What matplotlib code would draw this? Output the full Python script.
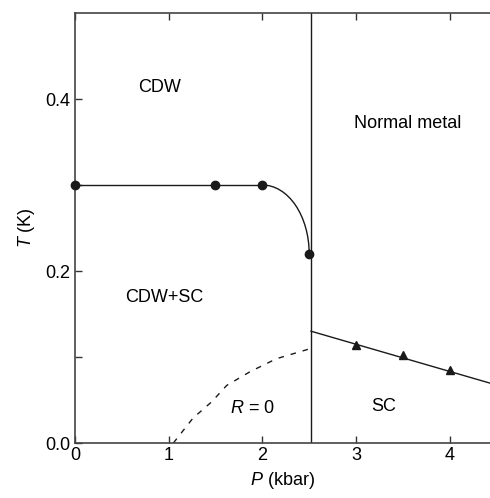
import matplotlib
matplotlib.use('Agg')
import matplotlib.pyplot as plt
from matplotlib.patches import Arc

plt.rcParams['font.family'] = ['Liberation Sans', 'DejaVu Sans']
plt.rcParams['mathtext.fontset'] = 'custom'
plt.rcParams['mathtext.it'] = 'Liberation Sans:italic'
plt.rcParams['mathtext.rm'] = 'Liberation Sans'

# CDW transition (circles)
cdw_p = [0.0, 1.5, 2.0, 2.5]
cdw_t = [0.30, 0.30, 0.30, 0.22]

# SC transition (triangles) and its linear fit
sc_p = [3.0, 3.5, 4.0]
sc_t = [0.114, 0.102, 0.085]
sc_fit_p = [2.52, 4.45]
sc_fit_t = [0.130, 0.069]

# zero-resistance boundary (dashed)
r0_p = [1.05, 1.26, 1.46, 1.62, 1.87, 2.15, 2.52]
r0_t = [0.0, 0.029, 0.048, 0.067, 0.083, 0.098, 0.110]

boundary_p = 2.52

fig = plt.figure(figsize=(4.9, 4.98), dpi=100)
ax = fig.add_axes([0.153, 0.1104, 0.847, 0.8635])

lc = '#1a1a1a'
ax.axvline(boundary_p, color=lc, lw=1.0)
ax.plot(cdw_p[:3], cdw_t[:3], color=lc, lw=1.0)
ax.add_patch(Arc((cdw_p[2], cdw_t[3]), 2 * (cdw_p[3] - cdw_p[2]), 2 * (cdw_t[2] - cdw_t[3]),
                 theta1=0, theta2=90, color=lc, lw=1.0))
ax.plot(cdw_p, cdw_t, 'o', color=lc, markersize=6, clip_on=False, zorder=5)

ax.plot(sc_fit_p, sc_fit_t, color=lc, lw=1.0)
ax.plot(sc_p, sc_t, '^', color=lc, markersize=6, zorder=5)

ax.plot(r0_p, r0_t, '--', color=lc, lw=1.0, dashes=(4, 5))

fs = 13
ax.text(0.9, 0.413, 'CDW', fontsize=fs, ha='center', va='center')
ax.text(3.55, 0.372, 'Normal metal', fontsize=fs, ha='center', va='center')
ax.text(0.95, 0.169, 'CDW+SC', fontsize=fs, ha='center', va='center')
ax.text(1.89, 0.040, '$R$ = 0', fontsize=fs, ha='center', va='center')
ax.text(3.3, 0.043, 'SC', fontsize=fs, ha='center', va='center')

ax.set_xlim(0, 4.43)
ax.set_ylim(0, 0.5)
ax.set_xticks([0, 1, 2, 3, 4])
ax.set_yticks([0.0, 0.1, 0.2, 0.3, 0.4])
ax.set_yticklabels(['0.0', '', '0.2', '', '0.4'])
ax.tick_params(direction='in', length=5, width=1.0, color='#333333', labelsize=fs,
               top=True, right=False)
ax.tick_params(axis='x', pad=3)

for side in ['left', 'bottom', 'top']:
    ax.spines[side].set_color('#444444')
    ax.spines[side].set_linewidth(1.2)
ax.spines['right'].set_visible(False)

ax.set_xlabel('$P$ (kbar)', fontsize=fs, labelpad=4)
ax.set_ylabel('$T$ (K)', fontsize=fs, labelpad=6)

fig.savefig('out.png', dpi=100)
